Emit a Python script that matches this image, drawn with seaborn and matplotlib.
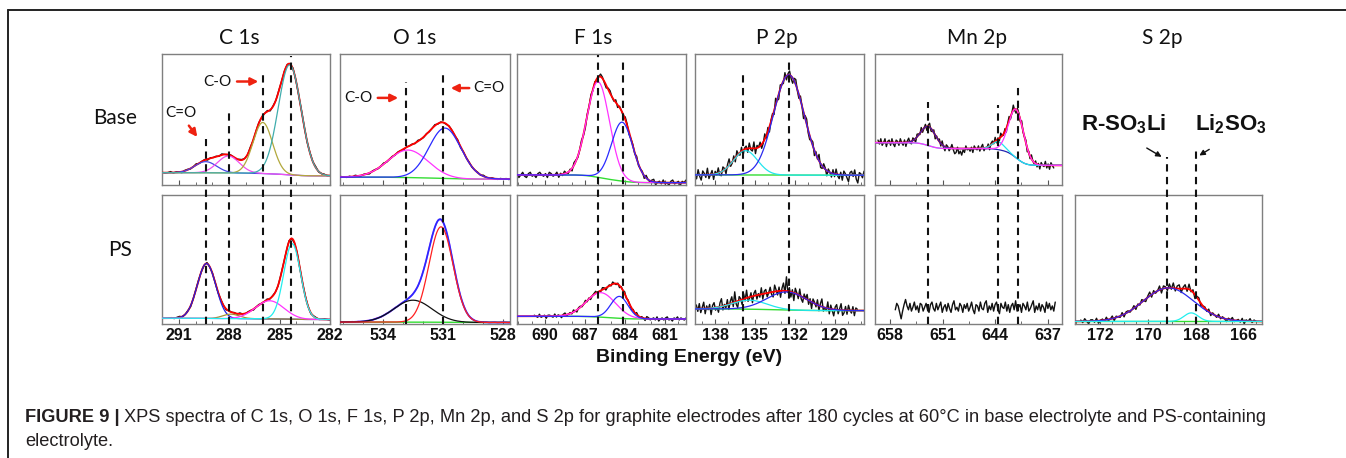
import math
import numpy as np
import matplotlib
matplotlib.use('Agg')
import matplotlib.pyplot as plt
import seaborn as sns
from matplotlib.lines import Line2D
from matplotlib.ticker import MultipleLocator

sns.set_theme(style='white')
plt.rcParams['font.family'] = ['Liberation Sans', 'DejaVu Sans']
plt.rcParams['mathtext.fontset'] = 'custom'
plt.rcParams['mathtext.bf'] = 'Liberation Sans:bold'
plt.rcParams['mathtext.rm'] = 'Liberation Sans'

# ------------------------------------------------------------------ data
titles = ['C 1s', 'O 1s', 'F 1s', 'P 2p', 'Mn 2p', 'S 2p']
row_labels = ['Base', 'PS']
xlabel = 'Binding Energy (eV)'

c1s_xlim = (292.0, 282.0)
o1s_xlim = (536.15, 527.65)
f1s_xlim = (692.1, 679.4)
p2p_xlim = (139.5, 126.8)
mn_xlim = (660.0, 635.1)
s2p_xlim = (173.04, 165.25)

c1s_ticks = [291, 288, 285, 282]
o1s_ticks = [534, 531, 528]
f1s_ticks = [690, 687, 684, 681]
p2p_ticks = [138, 135, 132, 129]
mn_ticks = [658, 651, 644, 637]
s2p_ticks = [172, 170, 168, 166]

# reference lines (binding energy)
c1s_refs = [289.4, 288.0, 286.0, 284.35]
o1s_refs = [532.85, 531.0]
f1s_refs = [686.0, 684.1]
p2p_refs = [135.9, 132.45]
mn_refs = [653.0, 643.6, 641.0]
s2p_refs = [169.2, 168.0]

# fitted components: centre (eV), height (panel fraction), sigma (eV)
c1s_base_c = [289.4, 288.05, 286.0, 284.4]
c1s_base_h = [0.085, 0.13, 0.39, 0.84]
c1s_base_s = [0.65, 0.65, 0.58, 0.68]
c1s_base_bg = (0.070, 0.094)
c1s_ps_c = [289.35, 287.9, 285.6, 284.25]
c1s_ps_h = [0.425, 0.035, 0.14, 0.585]
c1s_ps_s = [0.55, 0.5, 0.85, 0.5]
c1s_ps_bg = (0.035, 0.045)

o1s_base_c = [532.75, 530.9]
o1s_base_h = [0.21, 0.385]
o1s_base_s = [1.0, 0.8]
o1s_base_bg = (0.045, 0.06)
o1s_ps_c = [532.5, 531.1]
o1s_ps_h = [0.17, 0.74]
o1s_ps_s = [0.95, 0.6]
o1s_ps_bg = (0.012, 0.015)

f1s_base_c = [686.0, 684.2]
f1s_base_h = [0.73, 0.45]
f1s_base_s = [0.85, 0.8]
f1s_base_bg = (0.018, 0.077)
f1s_ps_c = [685.8, 684.4]
f1s_ps_h = [0.19, 0.17]
f1s_ps_s = [1.1, 0.65]
f1s_ps_bg = (0.039, 0.06)

p2p_base_c = [135.7, 132.45]
p2p_base_h = [0.185, 0.765]
p2p_base_s = [0.9, 1.15]
p2p_base_bg = (0.075, 0.077)
p2p_ps_c = [135.4, 132.6]
p2p_ps_h = [0.07, 0.14]
p2p_ps_s = [1.3, 1.5]
p2p_ps_bg = (0.104, 0.117)

mn_base_c = [652.9, 643.6, 641.2]
mn_base_h = [0.146, 0.06, 0.37]
mn_base_s = [1.0, 0.8, 1.0]
mn_base_bg = (0.15, 0.323)
mn_ps_level = 0.13

s2p_ps_c = [169.15, 168.2]
s2p_ps_h = [0.26, 0.066]
s2p_ps_s = [1.05, 0.3]
s2p_ps_bg = (0.02, 0.02)

# raw-data extents (eV) and hand-read residual noise (units of 0.01 panel height)
c1s_base_raw = (292.0, 282.0)
c1s_base_noise = [1, -1, 0, 2, -1, 1, 0, -2, 1, 1, -1, 0, 2, -1, 0, 1, -2, 1, 0, 1, -1, 2, 0, -1, 1, 0, -2, 1, 1, 0,
                  -1, 2, -1, 0, 1, -1, 0, 2, -2, 1, 0, 1, -1, 0, 1, -1, 2, 0, -1, 1, 0, -1, 1, 0, 2, -1, 0, 1, -1, 0]
c1s_ps_raw = (291.6, 282.0)
c1s_ps_noise = [0, 1, -1, 1, 2, -1, 0, 1, -2, 0, 1, 1, -1, 0, 2, -1, 1, 0, -1, 1, 0, -2, 1, 0, 1, -1, 2, 0, -1, 1,
                1, -2, 0, 1, -1, 0, 2, -1, 1, 0, -1, 1, 0, -1, 2, 0, -1, 1, -1, 0, 1, 0, -2, 1, 1, -1, 0, 1, 0, -1]
o1s_base_raw = (536.1, 527.7)
o1s_base_noise = [1, 0, -1, 1, -1, 2, 0, -1, 1, 0, -2, 1, 1, -1, 0, 2, -1, 0, 1, -1, 1, 0, -2, 1, 0, 1, -1, 2, 0, -1,
                  1, -1, 0, 2, -1, 1, 0, -1, 1, 0, -1, 2, -2, 1, 0, 1, -1, 0, 1, -1, 2, 0, -1, 1, 0, -1, 1, 0, 1, -1]
o1s_ps_raw = (536.1, 527.7)
o1s_ps_noise = [0, 1, -1, 0, 1, -1, 1, 0, -1, 1, 0, -1, 1, 1, -1, 0, 1, -1, 0, 1, -1, 1, 0, -1, 1, 0, 1, -1, 0, 1,
                -1, 0, 1, -1, 1, 0, -1, 0, 1, -1, 1, 0, -1, 1, 0, -1, 1, 0, -1, 1, 0, 1, -1, 0, 1, -1, 0, 1, 0, -1]
f1s_base_raw = (692.1, 679.4)
f1s_base_noise = [1, -2, 0, 2, -1, -2, 1, 2, -1, 0, -2, 1, 2, 0, -1, 1, -2, 2, 1, -1, 0, 2, -2, 1, -1, 2, 0, -1, 1, -2,
                  2, 1, -1, 0, 2, -1, -2, 1, 0, 2, -1, 1, -2, 0, 2, 1, -1, -2, 1, 2, 0, -1, 2, -2, 1, 0, -1, 2, 1, -2,
                  0, 1, -1, 2, -1, 0, 1, -2, 2, 0, -1, 1, 2, -2, 0, 1, -1, 2, -1, 0, -2, 1, 2, -1, 0, 1, -2, 1, 0, 2]
f1s_ps_raw = (690.8, 679.4)
f1s_ps_noise = [1, 0, -1, 2, -1, 0, 1, -2, 1, 1, 0, -1, 2, -1, 1, 0, -2, 1, 2, -1, 0, 1, -1, 2, 0, -2, 1, 1, -1, 0,
                2, -1, 1, -2, 0, 1, 2, -1, 0, -1, 2, 1, -2, 0, 1, -1, 2, 0, -1, 1, -2, 1, 0, 2, -1, 1, 0, -2, 1, -1,
                2, 0, -1, 1, 0, -2, 2, 1, -1, 0, 1, -1, 2, -2, 0, 1, -1, 1, 2, -1, 0, -2, 1, 0, 2, -1, 1, 0, -1, 1]
p2p_base_raw = (139.5, 126.8)
p2p_base_noise = [2, -3, 4, -1, -4, 3, 1, -2, 5, -3, 0, 3, -4, 2, -1, 4, -2, -3, 3, 1, -4, 2, 5, -2, -1, 3, -3, 4, 0, -2,
                  3, -4, 1, 2, -3, 4, -1, -2, 5, -4, 2, 0, 3, -3, -1, 4, -2, 3, -4, 1, 2, -3, 5, -1, -4, 3, 0, -2, 4, -3,
                  1, 3, -2, -4, 2, 4, -1, -3, 3, 0, -5, 2, 4, -2, -3, 1, 3, -4, 2, -1, 5, -3, -2, 3, 1, -4, 2, 0, -3, 3,
                  -2, 4, -1, -3, 2, -4, 3, 1, -2, -5, 2, 3, -1, 4, -3, -6, 2, 1, -2, 3]
p2p_ps_raw = (139.4, 127.3)
p2p_ps_noise = [3, -2, 4, -3, 1, 5, -4, 2, -1, 3, -5, 2, 4, -2, 0, -4, 3, 6, -3, 1, -2, 4, -4, 2, 5, -3, 8, -2, -5, 3,
                1, -4, 4, -2, 6, -3, -1, 3, -5, 2, 4, -3, 1, -2, 5, -4, 2, 3, -3, 0, 4, -2, -4, 5, 1, -3, 3, -5, 2, 6,
                -2, 11, -1, 3, -4, 2, -6, 4, 1, -3, 5, -2, -4, 3, 0, 4, -3, 2, -5, 3, 1, -2, 4, -4, 2, 6, -3, 0, -2, 5,
                -4, 3, -1, -5, 2, 4, -3, 1, 5, -4, -2, 3, -3, 4, 0, -2, 3, -4, 2, 1]
mn_base_raw = (659.6, 636.2)
mn_base_noise = [2, -1, 3, -2, 0, 3, -3, 1, 2, -2, 3, -1, -3, 2, 1, -2, 3, 0, -2, 2, -3, 1, 3, -1, -2, 2, 0, -3, 2, 1,
                 -1, 3, -2, 0, 2, -3, 1, 3, -2, -1, 2, -3, 1, 0, 2, -2, 3, -1, -3, 2, 1, -2, 0, 3, -1, -4, -3, 1, -4, -2,
                 -5, -1, -3, 2, -1, 0, -2, 1, -3, 2, 0, -1, 2, -2, 1, 3, -2, 0, -1, 2, -3, 1, 2, -1, 3, -2, 1, -2, 3, 0,
                 -1, 2, -3, 1, 3, -2, 0, 4, -1, -3, 2, 1, -2, 3, -1, 0, 2, -3, 1, -2, 3, 0, -1, 2, -2, 1, -3, 2, 0, -1,
                 3, -2, 1, -3, 2, 0, -2]
mn_ps_raw = (657.3, 636.0)
mn_ps_noise = [-2, 3, 1, -4, -9, -3, 2, 6, 1, -2, 3, -3, 0, 4, -2, 1, -4, 3, 2, -3, 0, 3, -2, -4, 2, 4, -1, -3, 3, -2,
               1, 4, -4, 0, 2, -3, 3, -1, -4, 2, 5, -2, 0, -3, 3, 1, -4, 2, -1, 3, -3, 0, 4, -2, -5, 2, 1, -3, 4, -1,
               -2, 3, 5, -4, 1, -2, 3, -3, 2, 4, -2, -5, 3, 0, -1, 4, -3, 2, -4, 1, 3, -2, 5, -3, 0, 2, -4, 3, 1, -2,
               4, -3, -1, 2, 5, -4, 1, -2, 3, -3, 2, 0, -4, 4, -1, 3, -2, 1, -3, 4]
s2p_ps_raw = (172.8, 165.5)
s2p_ps_noise = [1, -1, 2, 0, -2, 1, 1, -1, 2, -2, 0, 1, -1, 2, -1, 0, 2, -2, 1, 0, -1, 2, -2, 1, 1, -1, 0, 2, -2, 1,
                -1, 2, 0, -2, 1, 3, -2, 2, -1, 0, 3, -3, 2, 1, -2, 3, -1, 4, -2, 2, 3, -3, 1, 3, -2, 4, -1, 2, -3, 1,
                2, -2, 0, 1, -1, 2, -2, 1, 0, -1, 2, -1, 1, 0, -2, 1, 0, 2, -1, 0, 1, -1, 2, -2, 1, 0, 2, -1, 1, 0]

caption_bold = 'FIGURE 9 |'
caption_line1 = ('XPS spectra of C 1s, O 1s, F 1s, P 2p, Mn 2p, and S 2p for graphite electrodes after 180 cycles '
                 'at 60\u00b0C in base electrolyte and PS-containing')
caption_line2 = 'electrolyte.'

# ------------------------------------------------------------------ layout (pixels)
W, H = 1346, 458
cols = [(162, 330), (340, 510), (517, 686), (695, 864), (875, 1062), (1075, 1262)]
top_row = (54, 185)
bot_row = (195, 324)
ref_start = {0: [139, 109, 75, 56], 1: [82, 75], 2: [55, 61], 3: [75, 58], 4: [102, 105, 85], 5: [157, 150]}

fig = plt.figure(figsize=(W / 100, H / 100), dpi=100)
fig.patch.set_facecolor('white')

_erf = np.vectorize(math.erf)


def gauss(x, c, h, s):
    return h * np.exp(-0.5 * ((x - c) / s) ** 2)


def shirley(x, cs, hs, ss, bg):
    lo, hi = bg
    w = np.array(hs) * np.array(ss)
    F = sum(wi * 0.5 * (1 + _erf((x - c) / (s * math.sqrt(2)))) for wi, c, s in zip(w, cs, ss))
    return lo + (hi - lo) * F / w.sum()


def line(ax, x, y, color, lw, z):
    sns.lineplot(x=x, y=y, ax=ax, color=color, linewidth=lw, zorder=z,
                 estimator=None, sort=False, legend=False)


def add_axes(col, row):
    x0, x1 = cols[col]
    y0, y1 = row
    return fig.add_axes([x0 / W, 1 - y1 / H, (x1 - x0) / W, (y1 - y0) / H])


def style_axes(ax, xlim, ticks, minor, labels):
    ax.set_xlim(*xlim)
    ax.set_ylim(0, 1)
    ax.set_yticks([])
    ax.set_xticks(ticks)
    ax.xaxis.set_minor_locator(MultipleLocator(minor))
    ax.tick_params(axis='x', which='major', direction='in', length=3.5, width=0.8, color='#555555',
                   labelsize=11.5, pad=3, labelbottom=labels)
    ax.tick_params(axis='x', which='minor', direction='in', length=2, width=0.6, color='#555555', bottom=True)
    ax.tick_params(axis='x', which='both', bottom=True)
    for lab in ax.get_xticklabels():
        lab.set_fontweight('bold')
        lab.set_color('#111111')
    for sp in ax.spines.values():
        sp.set_visible(True)
        sp.set_color('#7f7f7f')
        sp.set_linewidth(1.0)
    ax.set_xlabel('')
    ax.set_ylabel('')
    ax.set_facecolor('white')


def spectrum(ax, xlim, cs, hs, ss, bg, comp_colors, raw_rng, noise, raw_scale=0.01,
             env_color='#ff0000', raw_color='#111111', bg_color=None):
    xf = np.linspace(xlim[0], xlim[1], 500)
    b = shirley(xf, cs, hs, ss, bg)
    env = b + sum(gauss(xf, c, h, s) for c, h, s in zip(cs, hs, ss))
    xr = np.linspace(raw_rng[0], raw_rng[1], len(noise))
    br = shirley(xr, cs, hs, ss, bg)
    raw = br + sum(gauss(xr, c, h, s) for c, h, s in zip(cs, hs, ss)) + raw_scale * np.array(noise)
    line(ax, xr, raw, raw_color, 1.0, 2)
    if bg_color:
        line(ax, xf, b, bg_color, 1.0, 2.5)
    line(ax, xf, env, env_color, 1.3, 3)
    for c, h, s, col in zip(cs, hs, ss, comp_colors):
        line(ax, xf, b + gauss(xf, c, h, s), col, 0.9, 4)


xlims = [c1s_xlim, o1s_xlim, f1s_xlim, p2p_xlim, mn_xlim, s2p_xlim]
tick_sets = [c1s_ticks, o1s_ticks, f1s_ticks, p2p_ticks, mn_ticks, s2p_ticks]
minors = [1, 1, 1, 1, 3.5, 0.5]
refs = [c1s_refs, o1s_refs, f1s_refs, p2p_refs, mn_refs, s2p_refs]

GREEN = '#33dd33'
# ---------------- top row (Base)
top_axes = []
for i in range(5):
    ax = add_axes(i, top_row)
    top_axes.append(ax)

spectrum(top_axes[0], c1s_xlim, c1s_base_c, c1s_base_h, c1s_base_s, c1s_base_bg,
         ['#4646e6', '#f050f0', '#b2a83c', '#40adad'], c1s_base_raw, c1s_base_noise, 0.004)
spectrum(top_axes[1], o1s_xlim, o1s_base_c, o1s_base_h, o1s_base_s, o1s_base_bg,
         ['#ff33ff', '#2a2aff'], o1s_base_raw, o1s_base_noise, 0.004, bg_color=GREEN)
spectrum(top_axes[2], f1s_xlim, f1s_base_c, f1s_base_h, f1s_base_s, f1s_base_bg,
         ['#ff33ff', '#2a2aff'], f1s_base_raw, f1s_base_noise, 0.01, bg_color=GREEN)
spectrum(top_axes[3], p2p_xlim, p2p_base_c, p2p_base_h, p2p_base_s, p2p_base_bg,
         ['#22e5ee', '#2a2aee'], p2p_base_raw, p2p_base_noise, 0.01, bg_color=GREEN)
spectrum(top_axes[4], mn_xlim, mn_base_c, mn_base_h, mn_base_s, mn_base_bg,
         ['#2424b0', '#22e5ee', '#ff33ff'], mn_base_raw, mn_base_noise, 0.01)
for i, ax in enumerate(top_axes):
    style_axes(ax, xlims[i], tick_sets[i], minors[i], False)

# ---------------- bottom row (PS)
bot_axes = []
for i in range(6):
    ax = add_axes(i, bot_row)
    bot_axes.append(ax)

spectrum(bot_axes[0], c1s_xlim, c1s_ps_c, c1s_ps_h, c1s_ps_s, c1s_ps_bg,
         ['#2222dd', '#a29232', '#ff33ff', '#22eeee'], c1s_ps_raw, c1s_ps_noise, 0.004)
spectrum(bot_axes[1], o1s_xlim, o1s_ps_c, o1s_ps_h, o1s_ps_s, o1s_ps_bg,
         ['#111111', '#ff2020'], o1s_ps_raw, o1s_ps_noise, 0.003,
         env_color='#2a2aff', raw_color='#ff33ff', bg_color=GREEN)
spectrum(bot_axes[2], f1s_xlim, f1s_ps_c, f1s_ps_h, f1s_ps_s, f1s_ps_bg,
         ['#ff33ff', '#2a2aff'], f1s_ps_raw, f1s_ps_noise, 0.008, bg_color=GREEN)
spectrum(bot_axes[3], p2p_xlim, p2p_ps_c, p2p_ps_h, p2p_ps_s, p2p_ps_bg,
         ['#22e5ee', '#2a2aee'], p2p_ps_raw, p2p_ps_noise, 0.01, bg_color=GREEN)
xr_mn = np.linspace(mn_ps_raw[0], mn_ps_raw[1], len(mn_ps_noise))
line(bot_axes[4], xr_mn, mn_ps_level + 0.01 * np.array(mn_ps_noise), '#111111', 1.0, 2)
spectrum(bot_axes[5], s2p_xlim, s2p_ps_c, s2p_ps_h, s2p_ps_s, s2p_ps_bg,
         ['#2a2aee', '#22eeee'], s2p_ps_raw, s2p_ps_noise, 0.01, bg_color=GREEN)
for i, ax in enumerate(bot_axes):
    style_axes(ax, xlims[i], tick_sets[i], minors[i], True)

# dashed reference lines spanning both rows
bh = bot_row[1] - bot_row[0]
for i, ax in enumerate(bot_axes):
    for xv, ys in zip(refs[i], ref_start[i]):
        ax.axvline(xv, ymin=0, ymax=(bot_row[1] - ys) / bh, color='#111111', lw=1.5,
                   linestyle=(0, (3.5, 2.6)), clip_on=False, zorder=6)

# ---------------- annotations
RED = '#ee2211'
LATO = ['Lato', 'DejaVu Sans']
ax = top_axes[0]
ax.text(290.87, 0.55, 'C=O', fontsize=11, family=LATO, ha='center', va='center', color='#111')
ax.annotate('', xy=(289.8, 0.35), xytext=(290.5, 0.47),
            arrowprops=dict(arrowstyle='-|>', color=RED, lw=1.8, mutation_scale=11))
ax.text(288.73, 0.79, 'C-O', fontsize=11, family=LATO, ha='center', va='center', color='#111')
ax.annotate('', xy=(286.1, 0.79), xytext=(287.7, 0.79),
            arrowprops=dict(arrowstyle='-|>', color=RED, lw=1.8, mutation_scale=11))
ax = top_axes[1]
ax.text(535.25, 0.665, 'C-O', fontsize=11, family=LATO, ha='center', va='center', color='#111')
ax.annotate('', xy=(533.1, 0.665), xytext=(534.4, 0.665),
            arrowprops=dict(arrowstyle='-|>', color=RED, lw=1.8, mutation_scale=11))
ax.text(528.7, 0.74, 'C=O', fontsize=11, family=LATO, ha='center', va='center', color='#111')
ax.annotate('', xy=(530.75, 0.74), xytext=(529.55, 0.74),
            arrowprops=dict(arrowstyle='-|>', color=RED, lw=1.8, mutation_scale=11))

ax = bot_axes[5]
ax.text(171.0, 1.55, r'R-SO$_{\mathbf{3}}$Li', fontsize=16, fontweight='bold', ha='center', va='center',
        color='#111')
ax.text(166.55, 1.55, r'Li$_{\mathbf{2}}$SO$_{\mathbf{3}}$', fontsize=16, fontweight='bold', ha='center',
        va='center', color='#111')
ax.annotate('', xy=(169.33, 1.285), xytext=(170.15, 1.375), annotation_clip=False,
            arrowprops=dict(arrowstyle='-|>', color='#111', lw=1.0, mutation_scale=8))
ax.annotate('', xy=(167.96, 1.295), xytext=(167.35, 1.365), annotation_clip=False,
            arrowprops=dict(arrowstyle='-|>', color='#111', lw=1.0, mutation_scale=8))

# ---------------- titles, row labels, axis label
title_x = [239, 415, 593, 777, 977, 1162]
for t, xp in zip(titles, title_x):
    fig.text(xp / W, 1 - 38 / H, t, fontsize=15, family=LATO, ha='center', va='center', color='#111')
fig.text(115 / W, 1 - 118 / H, row_labels[0], fontsize=15, family=LATO, ha='center', va='center', color='#111')
fig.text(120 / W, 1 - 250 / H, row_labels[1], fontsize=15, family=LATO, ha='center', va='center', color='#111')
fig.text(689 / W, 1 - 357 / H, xlabel, fontsize=14, fontweight='bold', ha='center', va='center', color='#111')

# ---------------- caption
CAP = 13.15
tb = fig.text(25 / W, 1 - 418 / H, caption_bold, fontsize=CAP, fontweight='bold', ha='left', va='center',
              color='#231f20')
renderer = fig.canvas.get_renderer()
bb = tb.get_window_extent(renderer=renderer)
fig.text((bb.x1 + 4) / W, 1 - 418 / H, caption_line1, fontsize=CAP, ha='left', va='center', color='#231f20')
fig.text(25 / W, 1 - 441 / H, caption_line2, fontsize=CAP, ha='left', va='center', color='#231f20')

# ---------------- outer frame
fig.add_artist(Line2D([8 / W, 8 / W], [0, 1 - 10 / H], color='#222222', lw=1.4))
fig.add_artist(Line2D([8 / W, 1], [1 - 10 / H, 1 - 10 / H], color='#222222', lw=1.4))

fig.savefig('out.png', dpi=100, facecolor='white')
